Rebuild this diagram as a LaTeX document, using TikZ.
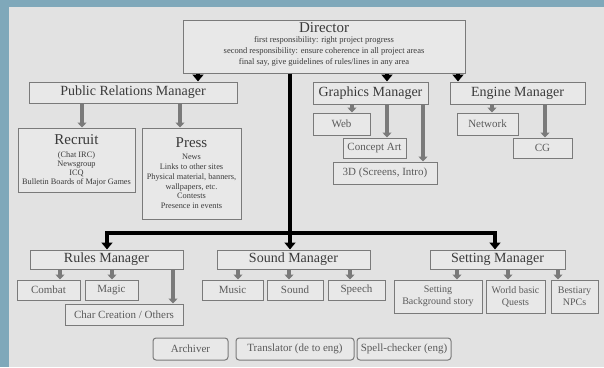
\documentclass[tikz,border=0pt]{standalone}
\usepackage{fontspec}
\setmainfont{Liberation Serif}
\usetikzlibrary{arrows.meta}
\definecolor{bgc}{HTML}{E2E2E2}
\definecolor{boxc}{HTML}{E8E8E8}
\definecolor{edgec}{HTML}{7A7A7A}
\definecolor{bluec}{HTML}{7FA8BA}
\definecolor{mtext}{HTML}{3A3A3A}
\definecolor{ctext}{HTML}{5A5A5A}
\definecolor{garc}{HTML}{7A7A7A}
\tikzset{
  box/.style={draw=edgec, fill=boxc, line width=1pt, inner sep=0pt, align=center},
  mgr/.style={box, text=mtext, font=\fontsize{14}{15}\selectfont},
  child/.style={box, text=ctext, font=\fontsize{11}{12}\selectfont},
  tool/.style={child, rounded corners=3pt},
  barrow/.style={line width=4pt, black, -{Triangle[length=7pt,width=11pt]}},
  bline/.style={line width=4pt, black},
  garrow/.style={line width=4.5pt, garc, -{Triangle[length=5pt,width=9pt]}},
  txt/.style={inner sep=0pt, align=center, text=mtext}
}
\begin{document}
\begin{tikzpicture}[x=1pt,y=-1pt]
\useasboundingbox (0,0) rectangle (604,367);
\fill[bgc] (0,0) rectangle (604,367);
\fill[bluec] (0,0) rectangle (9,367);
\fill[bluec] (0,0) rectangle (604,7);

% Director
\node[box, minimum width=282pt, minimum height=53pt] (dir) at (324,46.5) {};
\node[txt, font=\fontsize{15}{15}\selectfont] (dirtitle) at (324,28) {Director};
\node[txt, font=\fontsize{8.5}{11}\selectfont] (dirtext) at (324,51.5)
  {first responsibility: right project progress\\second responsibility: ensure coherence in all project areas\\final say, give guidelines of rules/lines in any area};

% Managers, top row
\node[mgr, minimum width=208pt, minimum height=21pt] (pr) at (133,92.5) {Public Relations Manager};
\node[mgr, minimum width=115pt, minimum height=22pt] (gfx) at (370.5,93) {Graphics Manager};
\node[mgr, minimum width=135pt, minimum height=22pt] (eng) at (517.5,93) {Engine Manager};

% PR children
\node[box, minimum width=117pt, minimum height=64pt] (recruit) at (76.5,160) {};
\node[txt, font=\fontsize{15}{15}\selectfont] (rectitle) at (76.5,140) {Recruit};
\node[txt, font=\fontsize{8.3}{9.3}\selectfont] (rectext) at (76.5,169)
  {(Chat IRC)\\Newsgroup\\ICQ\\Bulletin Boards of Major Games};
\node[box, minimum width=99pt, minimum height=91pt] (press) at (191.5,173.5) {};
\node[txt, font=\fontsize{15}{15}\selectfont] (presstitle) at (191.5,143) {Press};
\node[txt, font=\fontsize{8.3}{9.8}\selectfont] (presstext) at (191.5,181.5)
  {News\\Links to other sites\\Physical material, banners,\\wallpapers, etc.\\Contests\\Presence in events};

% Graphics children
\node[child, minimum width=57pt, minimum height=22pt] (web) at (341.5,124) {Web};
\node[child, minimum width=63pt, minimum height=20pt] (concept) at (374.5,148) {Concept Art};
\node[child, minimum width=104pt, minimum height=22pt] (threed) at (385,173) {3D (Screens, Intro)};

% Engine children
\node[child, minimum width=61pt, minimum height=22pt] (network) at (487.5,124) {Network};
\node[child, minimum width=59pt, minimum height=20pt] (cg) at (542.5,148) {CG};

% Bottom managers
\node[mgr, minimum width=153pt, minimum height=19pt] (rules) at (106.5,259.5) {Rules Manager};
\node[mgr, minimum width=153pt, minimum height=19pt] (sound) at (293.5,259.5) {Sound Manager};
\node[mgr, minimum width=135pt, minimum height=19pt] (setting) at (497.5,259.5) {Setting Manager};

% Rules children
\node[child, minimum width=63pt, minimum height=20pt] (combat) at (48.5,290) {Combat};
\node[child, minimum width=53pt, minimum height=20pt] (magic) at (111.5,290) {Magic};
\node[child, minimum width=118pt, minimum height=21pt] (charc) at (124,314.5) {Char Creation / Others};

% Sound children
\node[child, minimum width=61pt, minimum height=20pt] (music) at (232.5,290) {Music};
\node[child, minimum width=56pt, minimum height=20pt] (soundfx) at (295,290) {Sound};
\node[child, minimum width=57pt, minimum height=20pt] (speech) at (356.5,290) {Speech};

% Setting children
\node[child, minimum width=88pt, minimum height=33pt, font=\fontsize{10}{12}\selectfont] (setbg) at (438,296.5) {Setting\\Background story};
\node[child, minimum width=59pt, minimum height=33pt, font=\fontsize{10}{12}\selectfont] (world) at (515.5,296.5) {World basic\\Quests};
\node[child, minimum width=47pt, minimum height=33pt, font=\fontsize{10}{12}\selectfont] (best) at (574.5,296.5) {Bestiary\\NPCs};

% Bottom tools
\node[tool, minimum width=75pt, minimum height=22pt] (arch) at (190.5,349) {Archiver};
\node[tool, minimum width=118pt, minimum height=22pt] (trans) at (295,349) {Translator (de to eng)};
\node[tool, minimum width=94pt, minimum height=22pt] (spell) at (404,349) {Spell-checker (eng)};

% Black connectors from Director
\draw[barrow] (dir.south -| 198,0) -- (pr.north -| 198,0);
\draw[barrow] (dir.south -| 387,0) -- (gfx.north -| 387,0);
\draw[barrow] (dir.south -| 458,0) -- (eng.north -| 458,0);
\coordinate (hub) at (290,233);
\coordinate (hl) at (107,233);
\coordinate (hr) at (495,233);
\draw[bline] (dir.south -| hub) -- (hub);
\draw[bline, line cap=rect] (hl) -- (hr);
\draw[barrow] (hl) -- (rules.north -| hl);
\draw[barrow] (hub) -- (sound.north -| hub);
\draw[barrow] (hr) -- (setting.north -| hr);

% Gray connectors
\draw[garrow] (pr.south -| 82,0) -- (recruit.north -| 82,0);
\draw[garrow] (pr.south -| 180,0) -- (press.north -| 180,0);
\draw[garrow] (gfx.south -| 352,0) -- (web.north -| 352,0);
\draw[garrow] (gfx.south -| 387,0) -- (concept.north -| 387,0);
\draw[garrow] (gfx.south -| 423,0) -- (threed.north -| 423,0);
\draw[garrow] (eng.south -| 492,0) -- (network.north -| 492,0);
\draw[garrow] (eng.south -| 545,0) -- (cg.north -| 545,0);
\draw[garrow] (rules.south -| 60,0) -- (combat.north -| 60,0);
\draw[garrow] (rules.south -| 112,0) -- (magic.north -| 112,0);
\draw[garrow] (rules.south -| 173,0) -- (charc.north -| 173,0);
\draw[garrow] (sound.south -| 238,0) -- (music.north -| 238,0);
\draw[garrow] (sound.south -| 289,0) -- (soundfx.north -| 289,0);
\draw[garrow] (sound.south -| 350,0) -- (speech.north -| 350,0);
\draw[garrow] (setting.south -| 457,0) -- (setbg.north -| 457,0);
\draw[garrow] (setting.south -| 508,0) -- (world.north -| 508,0);
\draw[garrow] (setting.south -| 558,0) -- (best.north -| 558,0);
\end{tikzpicture}
\end{document}
